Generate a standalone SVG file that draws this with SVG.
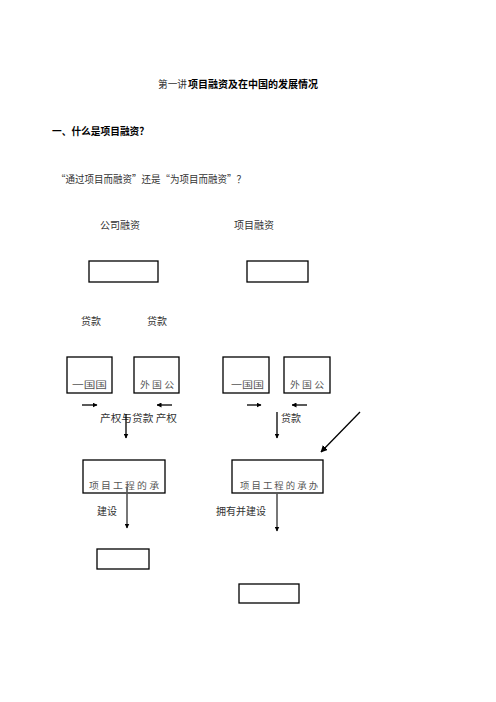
<svg xmlns="http://www.w3.org/2000/svg" width="496" height="702" viewBox="0 0 496 702">
<defs>
<marker id="ah" viewBox="0 0 10 10" refX="9" refY="5" markerWidth="5" markerHeight="5" orient="auto" markerUnits="userSpaceOnUse"><path d="M0,0 L10,5 L0,10 z" fill="#000"/></marker>
<marker id="ahs" viewBox="0 0 10 10" refX="9" refY="5" markerWidth="7" markerHeight="7" orient="auto" markerUnits="userSpaceOnUse"><path d="M0,0 L10,5 L0,10 z" fill="#000"/></marker>
</defs>
<style>
text{font-family:"Noto Sans CJK SC","Noto Sans CJK JP",sans-serif;font-size:10px;fill:#333}
.b{font-weight:bold;fill:#000}
.box{fill:#fff;stroke:#000;stroke-width:1.3}
.ln{stroke:#000;stroke-width:1.3;fill:none}
.gl{stroke:#555;stroke-width:1.6;fill:none}
.sm{font-size:9px;fill:#555}
</style>
<rect width="496" height="702" fill="#fff"/>
<text x="158" y="88" textLength="29" lengthAdjust="spacingAndGlyphs" fill="#666">第一讲</text>
<text x="188" y="88" class="b" textLength="130" lengthAdjust="spacingAndGlyphs">项目融资及在中国的发展情况</text>
<text x="52" y="135" class="b" textLength="97" lengthAdjust="spacingAndGlyphs">一、什么是项目融资？</text>
<text x="56" y="183" textLength="190" lengthAdjust="spacingAndGlyphs">“通过项目而融资”还是“为项目而融资”？</text>
<g id="n-gsrz"><text x="100" y="229">公司融资</text></g>
<g id="n-xmrz"><text x="234" y="229">项目融资</text></g>
<g id="n-box1"><rect class="box" x="89" y="261" width="69" height="21"/></g>
<g id="n-box2"><rect class="box" x="247" y="261" width="61" height="21"/></g>
<text x="81" y="325">贷款</text>
<text x="147" y="325">贷款</text>
<g id="n-a1"><rect class="box" x="67" y="357" width="45" height="36"/><text x="72" y="388" class="sm" textLength="35" lengthAdjust="spacingAndGlyphs">一国国</text></g>
<g id="n-a2"><rect class="box" x="134" y="357" width="45" height="36"/><text x="140" y="388" class="sm" textLength="34" lengthAdjust="spacingAndGlyphs">外 国 公</text></g>
<g id="n-b1"><rect class="box" x="223" y="357" width="46" height="36"/><text x="231" y="388" class="sm" textLength="33" lengthAdjust="spacingAndGlyphs">一国国</text></g>
<g id="n-b2"><rect class="box" x="284" y="357" width="46" height="36"/><text x="290" y="388" class="sm" textLength="34" lengthAdjust="spacingAndGlyphs">外 国 公</text></g>
<text x="100" y="422" textLength="77" lengthAdjust="spacingAndGlyphs">产权与贷款 产权</text>
<text x="281" y="422">贷款</text>
<g id="n-c1"><rect class="box" x="83" y="460" width="82" height="33"/><text x="89" y="489" class="sm" textLength="70" lengthAdjust="spacingAndGlyphs">项 目 工 程 的 承</text></g>
<g id="n-c2"><rect class="box" x="232" y="460" width="91" height="33"/><text x="240" y="489" class="sm" textLength="78" lengthAdjust="spacingAndGlyphs">项 目 工 程 的 承 办</text></g>
<text x="97" y="515">建设</text>
<text x="216" y="515">拥有并建设</text>
<g id="n-d1"><rect class="box" x="97" y="549" width="52" height="20"/></g>
<g id="n-d2"><rect class="box" x="239" y="584" width="60" height="19"/></g>
<g id="connectors">
<line class="ln" x1="82" y1="405" x2="97" y2="405" marker-end="url(#ah)"/>
<line class="ln" x1="172" y1="405" x2="157" y2="405" marker-end="url(#ah)"/>
<line class="ln" x1="247" y1="405" x2="261" y2="405" marker-end="url(#ah)"/>
<line class="ln" x1="307" y1="405" x2="292" y2="405" marker-end="url(#ah)"/>
<line class="ln" x1="126" y1="414" x2="126" y2="438" marker-end="url(#ah)"/>
<line class="ln" x1="277" y1="412" x2="277" y2="438" marker-end="url(#ah)"/>
<line class="ln" x1="360" y1="412" x2="321" y2="452" marker-end="url(#ahs)"/>
<line class="gl" x1="127" y1="487" x2="127" y2="528" marker-end="url(#ah)"/>
<line class="gl" x1="277" y1="493" x2="277" y2="531" marker-end="url(#ah)"/>
</g>
</svg>
